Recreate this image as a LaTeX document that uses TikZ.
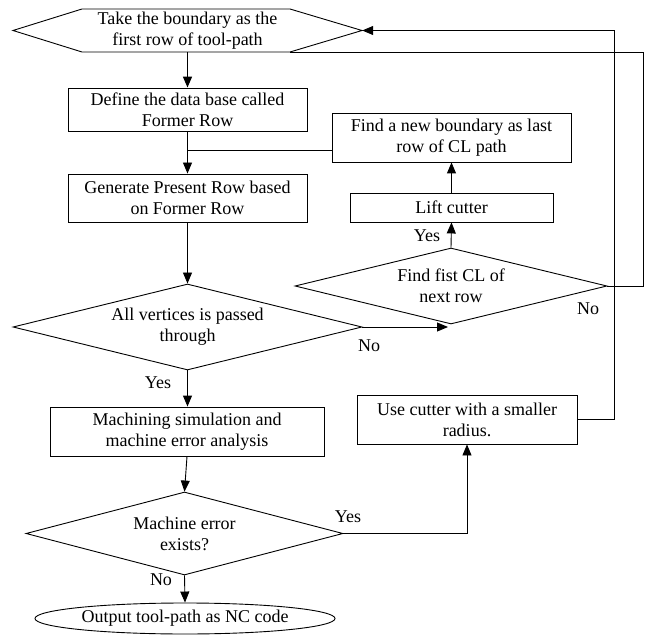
\documentclass[tikz,border=0pt]{standalone}
\usepackage{fontspec}
\setmainfont{Liberation Serif}
\usetikzlibrary{arrows.meta,shapes.geometric}
\begin{document}
\begin{tikzpicture}[x=1pt,y=-1pt,
  every node/.style={font=\fontsize{18}{21}\selectfont, inner sep=0pt, align=center},
  line/.style={line width=0.9pt, draw=black},
  arr/.style={line, -{Triangle[length=11pt,width=9pt]}},
  procbox/.style={draw, line width=0.9pt, rectangle},
  decision/.style={draw, line width=0.9pt, diamond},
  terminal/.style={draw, line width=0.9pt, ellipse},
  lbl/.style={font=\fontsize{18}{21}\selectfont}
]
\useasboundingbox (0,0) rectangle (645,636);

% hexagon (start)
\node[minimum width=349pt, minimum height=43pt] (hex) at (187.5,30.5) {Take the boundary as the\\first row of tool-path};
\draw[line] (13,30.5) -- (82,9) -- (290,9) -- (362,30.5) -- (290,52) -- (82,52) -- cycle;
\coordinate (hexbr) at (290,52);

\node[procbox, minimum width=239pt, minimum height=43pt] (define) at (187.5,109.5) {Define the data base called\\Former Row};
\node[procbox, minimum width=239pt, minimum height=48pt] (gen) at (187.5,198) {Generate Present Row based\\on Former Row};
\node[procbox, minimum width=239pt, minimum height=49pt] (newb) at (451.5,137.5) {Find a new boundary as last\\row of CL path};
\node[procbox, minimum width=203pt, minimum height=29pt] (lift) at (451.5,207.5) {Lift cutter};
\node[decision, minimum width=312pt, minimum height=76pt, aspect=4.1] (findcl) at (451,286) {Find fist CL of\\next row};
\node[decision, minimum width=349pt, minimum height=86pt, aspect=4.06] (allv) at (187.5,327) {All vertices is passed\\through};
\node[procbox, minimum width=274pt, minimum height=49pt] (mach) at (187,431.5) {Machining simulation and\\machine error analysis};
\node[procbox, minimum width=220pt, minimum height=49pt] (usec) at (467,419.5) {Use cutter with a smaller\\radius.};
\node[decision, minimum width=317pt, minimum height=83pt, aspect=3.8] (merr) at (184.5,533.5) {Machine error\\exists?};
\node[terminal, minimum width=300pt, minimum height=31pt] (out) at (185,618.5) {Output tool-path as NC code};

% connectors
\draw[arr, line width=1.6pt] (hex.south) -- (define.north);
\draw[arr] (define.south) -- (gen.north);
\coordinate (j1) at (187.5,150);
\draw[line] (newb.west |- j1) -- (j1);
\draw[arr] (gen.south) -- (allv.north);
\coordinate (j2) at (448,327);
\draw[arr] (allv.east) -- (j2);
\draw[arr] (findcl.north) -- (lift.south);
\draw[arr] (lift.north) -- (newb.south);
\coordinate (r1) at (643,286);
\draw[line] (findcl.east) -- (r1) |- (hexbr);
\draw[arr] (allv.south) -- (allv.south |- mach.north);
\draw[arr] (mach.south) -- (merr.north);
\draw[arr] (merr.south) -- (out.north);
\draw[arr] (merr.east) -| (usec.south);
\coordinate (r2) at (614,419.5);
\draw[arr] (usec.east) -- (r2) |- (hex.east);

% labels
\node[lbl] (l1) at (369,346) {No};
\node[lbl] (l2) at (427,236) {Yes};
\node[lbl] (l3) at (588,309) {No};
\node[lbl] (l4) at (158,383) {Yes};
\node[lbl] (l5) at (348,517) {Yes};
\node[lbl] (l6) at (161,580) {No};
\end{tikzpicture}
\end{document}
